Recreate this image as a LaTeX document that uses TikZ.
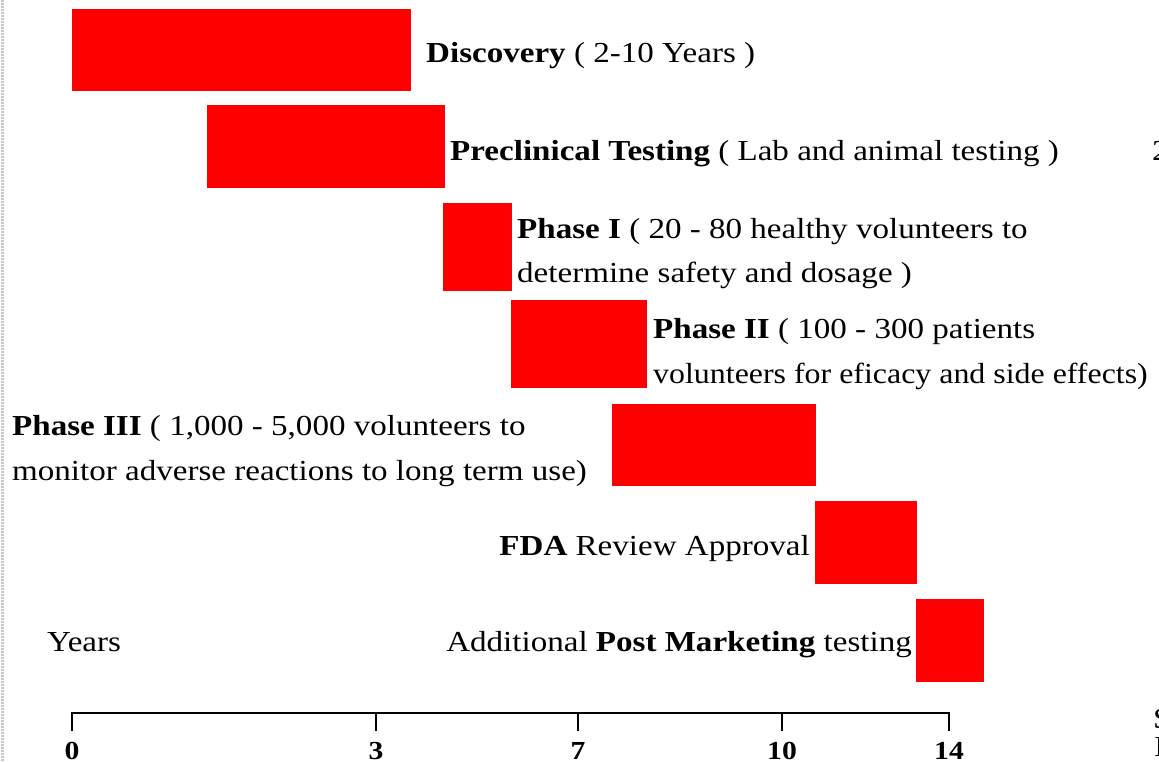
\documentclass[tikz,border=0pt]{standalone}
\usepackage{fontspec}
\setmainfont[FakeStretch=1.14]{Liberation Serif}
\begin{document}
\begin{tikzpicture}[x=1pt,y=-1pt,
  bar/.style={fill=red,draw=none},
  lbl/.style={inner sep=0pt,font=\fontsize{29}{29}\selectfont},
  ticklbl/.style={inner sep=0pt,anchor=base,font=\fontsize{26}{26}\selectfont\bfseries},
  axisline/.style={line width=1.3pt,black}]
\useasboundingbox (0,0) rectangle (1159,761);
% left dotted edge
\draw[gray!45,line width=3pt,dash pattern=on 1.5pt off 1.5pt] (2.5,0) -- (2.5,761);
% bars
\fill[bar] (72,9) rectangle (411,91);
\fill[bar] (207,105) rectangle (445,188);
\fill[bar] (443,203) rectangle (512,291);
\fill[bar] (511,300) rectangle (647,388);
\fill[bar] (612,404) rectangle (816,486);
\fill[bar] (815,501) rectangle (917,584);
\fill[bar] (916,599) rectangle (984,682);
% labels
\node[lbl,anchor=base west] (t1) at (426,62) {\textbf{Discovery} ( 2-10 Years )};
\node[lbl,anchor=base west] (t2) at (450,160) {\textbf{Preclinical Testing} ( Lab and animal testing )};
\node[lbl,anchor=base west] (t3a) at (517,238) {\textbf{Phase I} ( 20 - 80 healthy volunteers to};
\node[lbl,anchor=base west] (t3b) at (517,282) {determine safety and dosage )};
\node[lbl,anchor=base west] (t4a) at (653,338) {\textbf{Phase II} ( 100 - 300 patients};
\node[lbl,anchor=base west] (t4b) at (653,383) {\scalebox{0.965}[1]{volunteers for eficacy and side effects)}};
\node[lbl,anchor=base west] (t5a) at (12,435) {\textbf{Phase III} ( 1,000 - 5,000 volunteers to};
\node[lbl,anchor=base west] (t5b) at (12,480) {monitor adverse reactions to long term use)};
\node[lbl,anchor=base east] (t6) at (810,555) {\textbf{FDA} Review Approval};
\node[lbl,anchor=base west] (yrs) at (47,651) {Years};
\node[lbl,anchor=base east] (t7) at (912,651) {Additional \textbf{Post Marketing} testing};
% clipped fragments at the right edge
\node[lbl,anchor=base west] (f1) at (1152,160) {2};
\node[lbl,anchor=base west] (f2) at (1153,728) {S};
\node[lbl,anchor=base west] (f3) at (1154,756) {I};
% axis
\coordinate (a0) at (72,713);
\coordinate (a14) at (949,713);
\draw[axisline] (72,731) -- (a0) -- (a14) -- (949,731);
\foreach \x/\l in {376/3,578/7,782/10}
  \draw[axisline] (\x,713) -- (\x,731);
\foreach \x/\l in {72/0,376/3,578/7,782/10,949/14}
  \node[ticklbl] (tl\l) at (\x,759) {\l};
\end{tikzpicture}
\end{document}
